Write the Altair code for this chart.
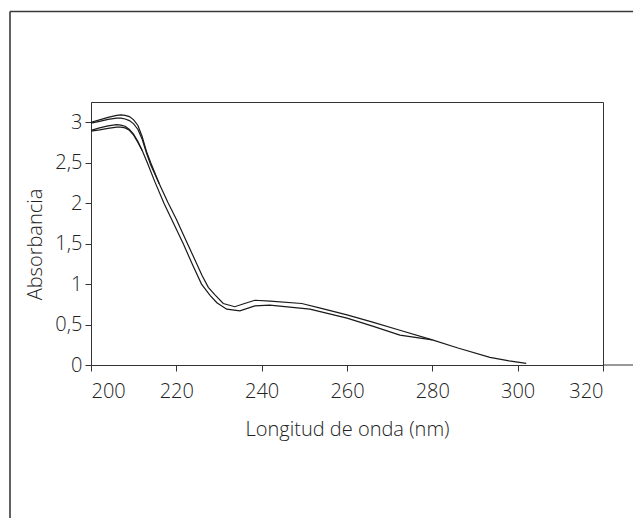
import altair as alt
import pandas as pd

# Wavelength (nm) and absorbance for each spectrum
wl_1 = [200, 202, 204, 206, 207, 208, 209, 210, 211, 212, 213, 214, 216, 218, 220, 222, 224, 226,
        227.5, 229, 231, 233.7, 236, 238.4, 242, 249.4, 254, 260, 266, 272.4, 280, 286, 293.5, 298, 302]
abs_1 = [3.00, 3.03, 3.06, 3.085, 3.09, 3.085, 3.07, 3.03, 2.96, 2.82, 2.64, 2.50, 2.24, 2.01, 1.80,
         1.57, 1.34, 1.11, 0.96, 0.87, 0.76, 0.72, 0.76, 0.80, 0.79, 0.76, 0.70, 0.62, 0.53, 0.43,
         0.31, 0.21, 0.095, 0.05, 0.02]

wl_2 = [200, 202, 204, 206, 207, 208, 209, 210, 211, 212, 213, 214, 216]
abs_2 = [2.99, 3.01, 3.035, 3.05, 3.05, 3.04, 3.02, 2.98, 2.91, 2.79, 2.62, 2.47, 2.24]

wl_3 = [200, 202, 204, 206, 207, 208, 209, 210, 211, 212, 213.2, 215, 217.1, 219, 221.6, 223.8,
        225.9, 227.9, 229.5, 231.8, 234.9, 238.4, 241.9, 251.3, 260, 266, 272.4, 280]
abs_3 = [2.90, 2.93, 2.955, 2.97, 2.965, 2.95, 2.91, 2.85, 2.76, 2.65, 2.50, 2.26, 2.00, 1.79, 1.50,
         1.24, 1.00, 0.86, 0.77, 0.69, 0.67, 0.73, 0.74, 0.69, 0.58, 0.48, 0.37, 0.31]

wl_4 = [200, 202, 204, 206, 207, 208, 209, 210, 211, 212]
abs_4 = [2.89, 2.905, 2.925, 2.94, 2.94, 2.93, 2.90, 2.84, 2.75, 2.65]

x_ticks = [200, 220, 240, 260, 280, 300, 320]
y_ticks = [0, 0.5, 1, 1.5, 2, 2.5, 3]

rows = []
for name, xs, ys in [("1", wl_1, abs_1), ("2", wl_2, abs_2), ("3", wl_3, abs_3), ("4", wl_4, abs_4)]:
    for x, y in zip(xs, ys):
        rows.append({"serie": name, "wl": x, "abs": y})
df = pd.DataFrame(rows)

W, H = 512, 263
FONT = "Open Sans"
one = pd.DataFrame({"a": [0]})

lines = alt.Chart(df).mark_line(color="#1a1a1a", strokeWidth=1.2).encode(
    x=alt.X("wl:Q",
            scale=alt.Scale(domain=[200, 320], nice=False, zero=False),
            axis=alt.Axis(values=x_ticks, title="Longitud de onda (nm)",
                          labelPadding=10, titlePadding=18)),
    y=alt.Y("abs:Q",
            scale=alt.Scale(domain=[0, 3.25], nice=False),
            axis=alt.Axis(values=y_ticks, title="Absorbancia",
                          labelExpr="replace(format(datum.value, '~g'), '.', ',')",
                          labelPadding=3, titlePadding=9, titleY=142)),
    detail="serie:N",
)

frame_top = alt.Chart(one).mark_rule(color="#3a3a3a", strokeWidth=1.6).encode(
    x=alt.value(-81), x2=alt.value(600), y=alt.value(-90.5))
frame_left = alt.Chart(one).mark_rule(color="#3a3a3a", strokeWidth=1.6).encode(
    x=alt.value(-81), y=alt.value(-90.5), y2=alt.value(500))
axis_ext = alt.Chart(one).mark_rule(color="#333333", strokeWidth=1).encode(
    x=alt.value(W), x2=alt.value(600), y=alt.value(H))

chart = alt.layer(frame_top, frame_left, axis_ext, lines).properties(
    width=W, height=H,
    padding={"left": 83, "top": 94, "right": 30, "bottom": 153},
    autosize=alt.AutoSizeParams(type="none"),
).configure_view(
    stroke="#333333", strokeWidth=1
).configure_axis(
    grid=False,
    domainColor="#333333", tickColor="#333333", tickSize=6,
    labelFont=FONT, labelFontSize=20, labelColor="#222222", labelFontWeight=300,
    titleFont=FONT, titleFontSize=20, titleFontWeight=300, titleColor="#222222",
)

chart.save("out.html", embed_options={"renderer": "svg", "actions": False})
